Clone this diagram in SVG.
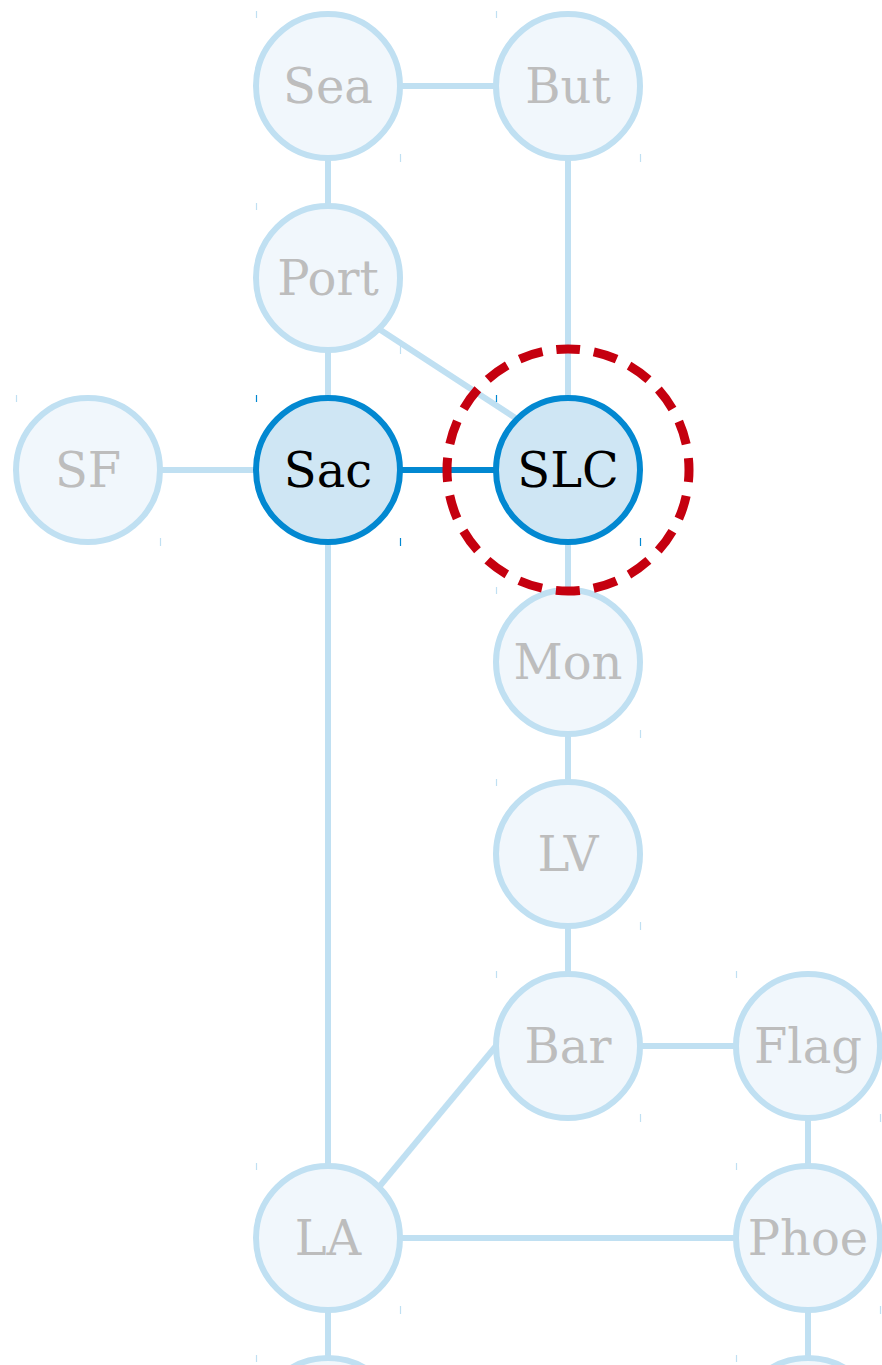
<svg xmlns="http://www.w3.org/2000/svg" width="882" height="1365" viewBox="0 0 882 1365">
<style>
.e{stroke:#c0e0f2;stroke-width:6;fill:none}
.ea{stroke:#0288d1;stroke-width:6;fill:none}
.n circle{fill:#f1f7fc;stroke:#c0e0f2;stroke-width:6}
.n text{fill:#bdbdbd}
.a circle{fill:#cfe6f4;stroke:#0288d1;stroke-width:6}
.a text{fill:#000}
text{font-family:"DejaVu Serif",serif;font-size:48px;text-anchor:middle}
.t{stroke:#c0e0f2;stroke-width:1.2}
.a .t{stroke:#0288d1}
.hl{fill:none;stroke:#c5000f;stroke-width:9;stroke-dasharray:24 14.0133;stroke-dashoffset:12}
</style>
<rect width="882" height="1365" fill="#fff"/>
<g id="connectors">
<line class="e" x1="328" y1="86" x2="568" y2="86"/>
<line class="e" x1="328" y1="86" x2="328" y2="278"/>
<line class="e" x1="568" y1="86" x2="568" y2="470"/>
<line class="e" x1="328" y1="278" x2="328" y2="470"/>
<line class="e" x1="379" y1="329" x2="517" y2="419"/>
<line class="e" x1="88" y1="470" x2="328" y2="470"/>
<line class="e" x1="328" y1="470" x2="328" y2="1238"/>
<line class="e" x1="568" y1="470" x2="568" y2="1046"/>
<line class="e" x1="568" y1="1046" x2="808" y2="1046"/>
<line class="e" x1="808" y1="1046" x2="808" y2="1430"/>
<line class="e" x1="379" y1="1187" x2="496" y2="1046"/>
<line class="e" x1="328" y1="1238" x2="808" y2="1238"/>
<line class="e" x1="328" y1="1238" x2="328" y2="1430"/>
<line class="ea" x1="400" y1="470" x2="496" y2="470"/>
</g>
<g id="Sea" class="n"><circle cx="328" cy="86" r="72"/><text x="328" y="103">Sea</text><path class="t" d="M256.5 11v7M400.5 154v8"/></g>
<g id="But" class="n"><circle cx="568" cy="86" r="72"/><text x="568" y="103">But</text><path class="t" d="M496.5 11v7M640.5 154v8"/></g>
<g id="Port" class="n"><circle cx="328" cy="278" r="72"/><text x="328" y="295">Port</text><path class="t" d="M256.5 203v7M400.5 346v8"/></g>
<g id="SF" class="n"><circle cx="88" cy="470" r="72"/><text x="88" y="487">SF</text><path class="t" d="M16.5 395v7M160.5 538v8"/></g>
<g id="Sac" class="a"><circle cx="328" cy="470" r="72"/><text x="328" y="487">Sac</text><path class="t" d="M256.5 395v7M400.5 538v8"/></g>
<g id="SLC" class="a"><circle cx="568" cy="470" r="72"/><text x="568" y="487">SLC</text><path class="t" d="M496.5 395v7M640.5 538v8"/></g>
<g id="Mon" class="n"><circle cx="568" cy="662" r="72"/><text x="568" y="679">Mon</text><path class="t" d="M496.5 587v7M640.5 730v8"/></g>
<g id="LV" class="n"><circle cx="568" cy="854" r="72"/><text x="568" y="871">LV</text><path class="t" d="M496.5 779v7M640.5 922v8"/></g>
<g id="Bar" class="n"><circle cx="568" cy="1046" r="72"/><text x="568" y="1063">Bar</text><path class="t" d="M496.5 971v7M640.5 1114v8"/></g>
<g id="Flag" class="n"><circle cx="808" cy="1046" r="72"/><text x="808" y="1063">Flag</text><path class="t" d="M736.5 971v7M880.5 1114v8"/></g>
<g id="LA" class="n"><circle cx="328" cy="1238" r="72"/><text x="328" y="1255">LA</text><path class="t" d="M256.5 1163v7M400.5 1306v8"/></g>
<g id="Phoe" class="n"><circle cx="808" cy="1238" r="72"/><text x="808" y="1255">Phoe</text><path class="t" d="M736.5 1163v7M880.5 1306v8"/></g>
<g id="LA-below" class="n"><circle cx="328" cy="1430" r="72"/><path class="t" d="M256.5 1355v7"/></g>
<g id="Phoe-below" class="n"><circle cx="808" cy="1430" r="72"/><path class="t" d="M736.5 1355v7"/></g>
<g id="highlight"><path class="hl" d="M568 349A121 121 0 1 1 568 591A121 121 0 1 1 568 349Z"/></g>
</svg>
